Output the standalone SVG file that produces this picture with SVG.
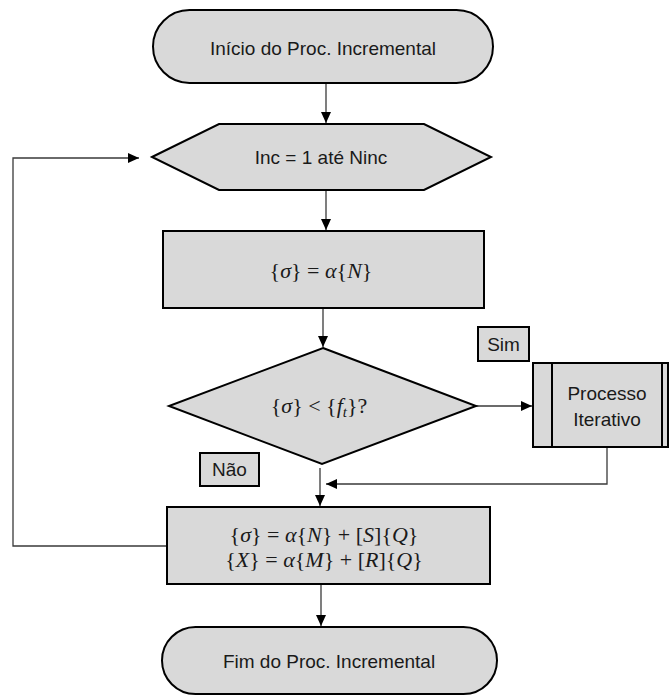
<svg xmlns="http://www.w3.org/2000/svg" width="670" height="697" viewBox="0 0 670 697">
  <style>
    .shape { fill: #d9d9d9; stroke: #000; stroke-width: 2; }
    .thin { fill: none; stroke: #000; stroke-width: 2; }
    .wire { fill: none; stroke: #3a3a3a; stroke-width: 1.3; }
    .lbl { font-family: "Liberation Sans", Arial, sans-serif; font-size: 19px; fill: #1a1a1a; text-anchor: middle; }
    .math { font-family: "Liberation Serif", "Times New Roman", serif; font-size: 22px; fill: #1a1a1a; text-anchor: middle; }
    .it { font-style: italic; }
  </style>
  <defs>
    <marker id="arrow" markerUnits="userSpaceOnUse" markerWidth="12" markerHeight="10" refX="11" refY="5" orient="auto">
      <path d="M0,0 L11,5 L0,10 Z" fill="#000"/>
    </marker>
  </defs>
  <rect width="670" height="697" fill="#fff"/>

  <!-- connectors -->
  <g id="connectors">
    <line class="wire" x1="326" y1="83" x2="326" y2="123" marker-end="url(#arrow)"/>
    <line class="wire" x1="326" y1="191" x2="326" y2="230" marker-end="url(#arrow)"/>
    <line class="wire" x1="323" y1="309" x2="323" y2="347" marker-end="url(#arrow)"/>
    <line class="wire" x1="476" y1="406" x2="532" y2="406" marker-end="url(#arrow)"/>
    <polyline class="wire" points="607,448 607,484 326,484" marker-end="url(#arrow)"/>
    <line class="wire" x1="320" y1="468" x2="320" y2="506" marker-end="url(#arrow)"/>
    <polyline class="wire" points="167,546 13,546 13,158 139,158" marker-end="url(#arrow)"/>
    <line class="wire" x1="321" y1="585" x2="321" y2="626" marker-end="url(#arrow)"/>
  </g>

  <!-- start terminal -->
  <g id="start">
    <rect class="shape" x="153" y="10" width="340" height="73" rx="36.5" ry="36.5"/>
    <text class="lbl" x="323" y="55">Início do Proc. Incremental</text>
  </g>

  <!-- loop header -->
  <g id="loop">
    <polygon class="shape" points="152,157 219,124 424,124 491,157 424,190 219,190"/>
    <text class="lbl" x="321" y="164">Inc = 1 até Ninc</text>
  </g>

  <!-- stress assignment -->
  <g id="stress">
    <rect class="shape" x="163" y="231" width="321" height="77"/>
    <text class="math" x="321" y="278">{<tspan class="it">σ</tspan>} = <tspan class="it">α</tspan>{<tspan class="it">N</tspan>}</text>
  </g>

  <!-- decision -->
  <g id="decision">
    <polygon class="shape" points="323,348 476,406 322,464 169,406"/>
    <text class="math" x="319" y="413">{<tspan class="it">σ</tspan>} &lt; {<tspan class="it">f</tspan><tspan class="it" font-size="15" dy="4">t</tspan><tspan dy="-4">}?</tspan></text>
  </g>

  <!-- branch labels -->
  <g id="sim">
    <rect class="shape" x="478" y="327" width="51" height="34"/>
    <text class="lbl" x="503.5" y="351">Sim</text>
  </g>
  <g id="nao">
    <rect class="shape" x="200" y="453" width="59" height="33"/>
    <text class="lbl" x="229.5" y="476">Não</text>
  </g>

  <!-- iterative sub-process -->
  <g id="iterative">
    <rect class="shape" x="533" y="363" width="135" height="84"/>
    <line class="thin" x1="552" y1="363" x2="552" y2="447"/>
    <line class="thin" x1="662" y1="363" x2="662" y2="447"/>
    <text class="lbl" x="607" y="400">Processo</text>
    <text class="lbl" x="607" y="426">Iterativo</text>
  </g>

  <!-- update -->
  <g id="update">
    <rect class="shape" x="167" y="507" width="323" height="77"/>
    <text class="math" x="324" y="542">{<tspan class="it">σ</tspan>} = <tspan class="it">α</tspan>{<tspan class="it">N</tspan>} + [<tspan class="it">S</tspan>]{<tspan class="it">Q</tspan>}</text>
    <text class="math" x="324" y="567">{<tspan class="it">X</tspan>} = <tspan class="it">α</tspan>{<tspan class="it">M</tspan>} + [<tspan class="it">R</tspan>]{<tspan class="it">Q</tspan>}</text>
  </g>

  <!-- end terminal -->
  <g id="end">
    <rect class="shape" x="162" y="627" width="335" height="67" rx="33.5" ry="33.5"/>
    <text class="lbl" x="329" y="668">Fim do Proc. Incremental</text>
  </g>
</svg>
